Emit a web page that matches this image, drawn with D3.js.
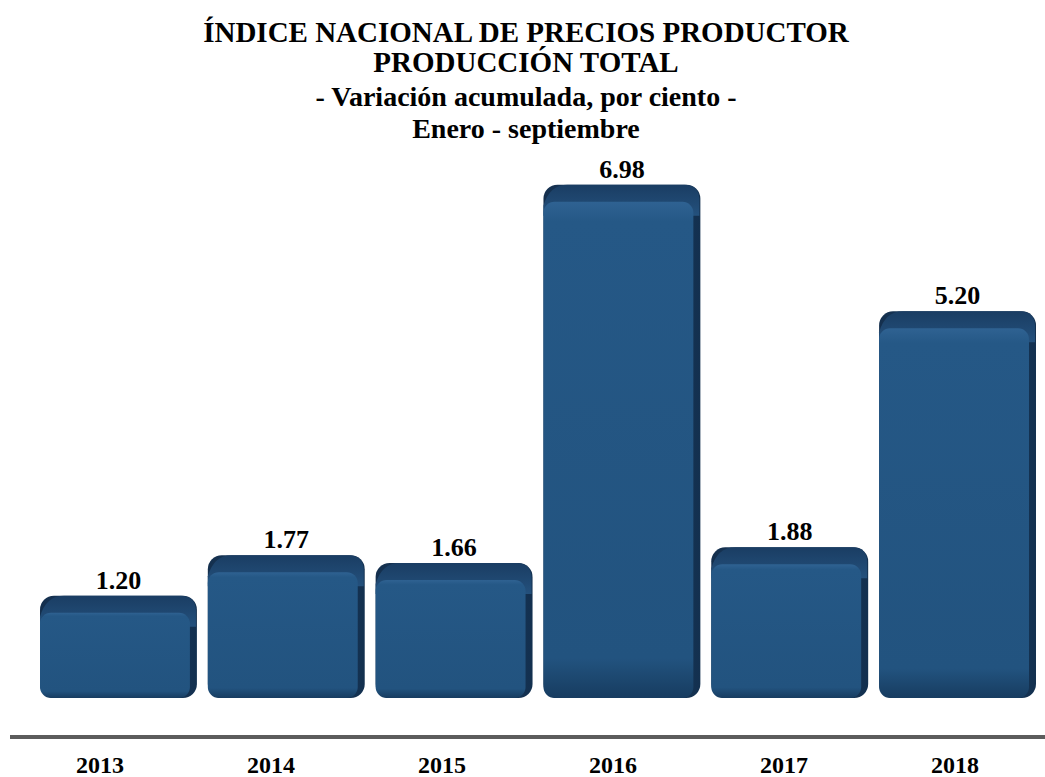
<!DOCTYPE html>
<html>
<head>
<meta charset="utf-8">
<script src="https://cdn.jsdelivr.net/npm/d3@7"></script>
<style>
  body { margin: 0; background: #fff; }
  svg text { font-family: "Liberation Serif", "DejaVu Serif", serif; }
</style>
</head>
<body>
<svg id="graph"></svg>
<script>
var years = ["2013", "2014", "2015", "2016", "2017", "2018"];
var values = [1.20, 1.77, 1.66, 6.98, 1.88, 5.20];
var titleLines = ["ÍNDICE NACIONAL DE PRECIOS PRODUCTOR", "PRODUCCIÓN TOTAL",
  "- Variación acumulada, por ciento -", "Enero - septiembre"];

document.addEventListener("DOMContentLoaded", function(event) {
	var width = 1045, height = 777,
		base = 698,
		cap = 17,
		serif = "'Liberation Serif', 'DejaVu Serif', serif",
		graph = d3.select("#graph").attr("width", width).attr("height", height);

	var data = years.map(function(yr, i) { return {year: yr, value: values[i]}; });

	//scales
	var x = d3.scaleBand().domain(years).range([40, 1036]).paddingInner(0.065),
		y = d3.scaleLinear().domain([0, 7]).range([base, base - 7 * 71.1]),
		xl = d3.scalePoint().domain(years).range([100, 955]);

	//gradients
	var defs = graph.append("defs");
	var gFront = defs.append("linearGradient").attr("id", "front")
		.attr("x1", 0).attr("y1", 0).attr("x2", 0).attr("y2", 1);
	gFront.append("stop").attr("offset", "0%").attr("stop-color", "#2f6292");
	gFront.append("stop").attr("offset", "4%").attr("stop-color", "#255886");
	gFront.append("stop").attr("offset", "92%").attr("stop-color", "#22537f");
	gFront.append("stop").attr("offset", "100%").attr("stop-color", "#173c60");

	var gCap = defs.append("linearGradient").attr("id", "cap")
		.attr("x1", 0).attr("y1", 0).attr("x2", 0).attr("y2", 1);
	gCap.append("stop").attr("offset", "0%").attr("stop-color", "#1a3d63");
	gCap.append("stop").attr("offset", "100%").attr("stop-color", "#24517d");

	var gSide = defs.append("linearGradient").attr("id", "side")
		.attr("x1", 0).attr("y1", 0).attr("x2", 1).attr("y2", 0);
	gSide.append("stop").attr("offset", "0%").attr("stop-color", "#142f4d");
	gSide.append("stop").attr("offset", "50%").attr("stop-color", "#1b3f66");
	gSide.append("stop").attr("offset", "100%").attr("stop-color", "#13304f");

	//title
	var sizes = [29, 29, 28, 28], ys = [42, 72, 106, 138];
	graph.append("g").attr("class", "title")
		.selectAll("text")
		.data(titleLines)
		.enter().append("text")
			.attr("x", 526)
			.attr("y", function(d, i) { return ys[i]; })
			.attr("text-anchor", "middle")
			.attr("font-family", serif)
			.attr("font-weight", "bold")
			.attr("font-size", function(d, i) { return sizes[i] + "px"; })
			.text(function(d) { return d; });

	//bars
	var bars = graph.append("g").attr("class", "bars")
		.selectAll("g")
		.data(data)
		.enter().append("g");

	// back / side block
	bars.append("rect")
		.attr("x", function(d) { return x(d.year); })
		.attr("y", function(d) { return y(d.value) - cap; })
		.attr("width", x.bandwidth())
		.attr("height", function(d) { return base - y(d.value) + cap; })
		.attr("rx", 14)
		.attr("fill", "url(#side)");

	// top cap
	bars.append("path")
		.attr("fill", "url(#cap)")
		.attr("d", function(d) {
			var x0 = x(d.year), w = x.bandwidth(), t = y(d.value) - cap;
			return "M" + (x0 + 24) + "," + t +
				"L" + (x0 + w - 16) + "," + t +
				"Q" + (x0 + w - 2) + "," + t + " " + (x0 + w - 1) + "," + (t + 14) +
				"L" + (x0 + w - 1) + "," + (t + cap + 14) +
				"L" + x0 + "," + (t + cap + 14) +
				"L" + x0 + "," + (t + cap + 4) +
				"Q" + (x0 + 6) + "," + t + " " + (x0 + 24) + "," + t + "Z";
		});

	// front face
	bars.append("rect")
		.attr("x", function(d) { return x(d.year); })
		.attr("y", function(d) { return y(d.value); })
		.attr("width", x.bandwidth() - 7)
		.attr("height", function(d) { return base - y(d.value); })
		.attr("rx", 11)
		.attr("fill", "url(#front)");

	// value labels
	graph.append("g").attr("class", "labels")
		.selectAll("text")
		.data(data)
		.enter().append("text")
			.attr("x", function(d) { return x(d.year) + x.bandwidth() / 2; })
			.attr("y", function(d) { return y(d.value) - cap - 7; })
			.attr("text-anchor", "middle")
			.attr("font-family", serif)
			.attr("font-weight", "bold")
			.attr("font-size", "26px")
			.text(function(d) { return d3.format(".2f")(d.value); });

	//axis line
	graph.append("line")
		.attr("x1", 10).attr("x2", width)
		.attr("y1", 737).attr("y2", 737)
		.attr("stroke", "#5c5c5c")
		.attr("stroke-width", 4);

	//year labels
	graph.append("g").attr("class", "years")
		.selectAll("text")
		.data(years)
		.enter().append("text")
			.attr("x", function(d) { return xl(d); })
			.attr("y", 773)
			.attr("text-anchor", "middle")
			.attr("font-family", serif)
			.attr("font-weight", "bold")
			.attr("font-size", "24px")
			.text(function(d) { return d; });
});
</script>
</body>
</html>
